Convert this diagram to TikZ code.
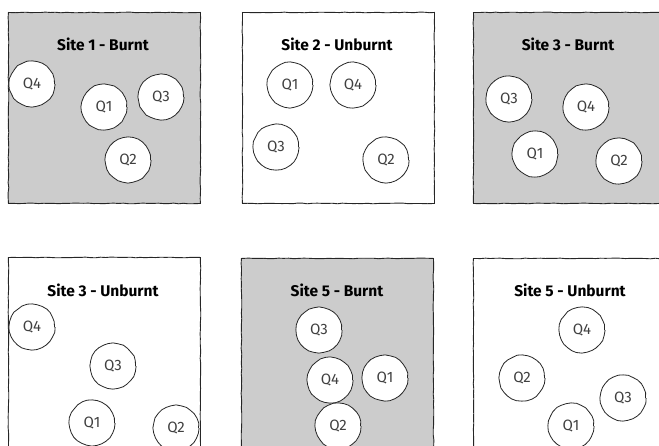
\documentclass[tikz,border=0pt]{standalone}
\usepackage{fontspec}
\setmainfont{Fira Sans}
\usetikzlibrary{decorations.pathmorphing}
\begin{document}
\begin{tikzpicture}[x=1pt,y=-1pt,
  wobble/.style={decorate,decoration={random steps,segment length=5pt,amplitude=0.35pt}},
  panel/.style={draw=black!85,line width=0.9pt,wobble,minimum width=192pt,minimum height=191pt,anchor=north west,inner sep=0pt},
  burnt/.style={panel,fill=black!20},
  unburnt/.style={panel,fill=white},
  sitetitle/.style={font=\fontsize{15.5}{18}\selectfont\bfseries,text=black},
  quad/.style={circle,draw=black!85,line width=0.8pt,fill=white,minimum size=45pt,inner sep=0pt,wobble,
    font=\fontsize{15}{17}\selectfont,text=black!75}]
\pgfmathsetseed{7}
\useasboundingbox (0,0) rectangle (659,445);
\clip (0,0) rectangle (659,445);
% panels
\node[burnt]   (p1) at (8,12) {};
\node[unburnt] (p2) at (242,12) {};
\node[burnt]   (p3) at (473,12) {};
\node[unburnt] (p4) at (8,257) {};
\node[burnt]   (p5) at (241,258) {};
\node[unburnt] (p6) at (473,258) {};
% titles
\node[sitetitle] (t1) at (103,44) {Site 1 - Burnt};
\node[sitetitle] (t2) at (337,44) {Site 2 - Unburnt};
\node[sitetitle] (t3) at (568,44) {Site 3 - Burnt};
\node[sitetitle] (t4) at (103,290) {Site 3 - Unburnt};
\node[sitetitle] (t5) at (337,290) {Site 5 - Burnt};
\node[sitetitle] (t6) at (570,290) {Site 5 - Unburnt};
% site 1
\node[quad] (a4) at (32,84) {Q4};
\node[quad] (a1) at (104,107) {Q1};
\node[quad] (a3) at (161,97) {Q3};
\node[quad] (a2) at (128,160) {Q2};
% site 2
\node[quad] (b1) at (290,85) {Q1};
\node[quad] (b4) at (353,85) {Q4};
\node[quad] (b3) at (276,147) {Q3};
\node[quad] (b2) at (386,160) {Q2};
% site 3 burnt
\node[quad] (c3) at (509,99) {Q3};
\node[quad] (c4) at (586,107) {Q4};
\node[quad] (c1) at (535,154) {Q1};
\node[quad] (c2) at (619,161) {Q2};
% site 3 unburnt
\node[quad] (d4) at (32,327) {Q4};
\node[quad] (d3) at (113,366) {Q3};
\node[quad] (d1) at (92,423) {Q1};
\node[quad] (d2) at (176,428) {Q2};
% site 5 burnt
\node[quad] (e3) at (319,330) {Q3};
\node[quad] (e4) at (330,380) {Q4};
\node[quad] (e1) at (385,378) {Q1};
\node[quad] (e2) at (338,426) {Q2};
% site 5 unburnt
\node[quad] (f4) at (582,330) {Q4};
\node[quad] (f2) at (522,378) {Q2};
\node[quad] (f3) at (623,398) {Q3};
\node[quad] (f1) at (571,426) {Q1};
\end{tikzpicture}
\end{document}
